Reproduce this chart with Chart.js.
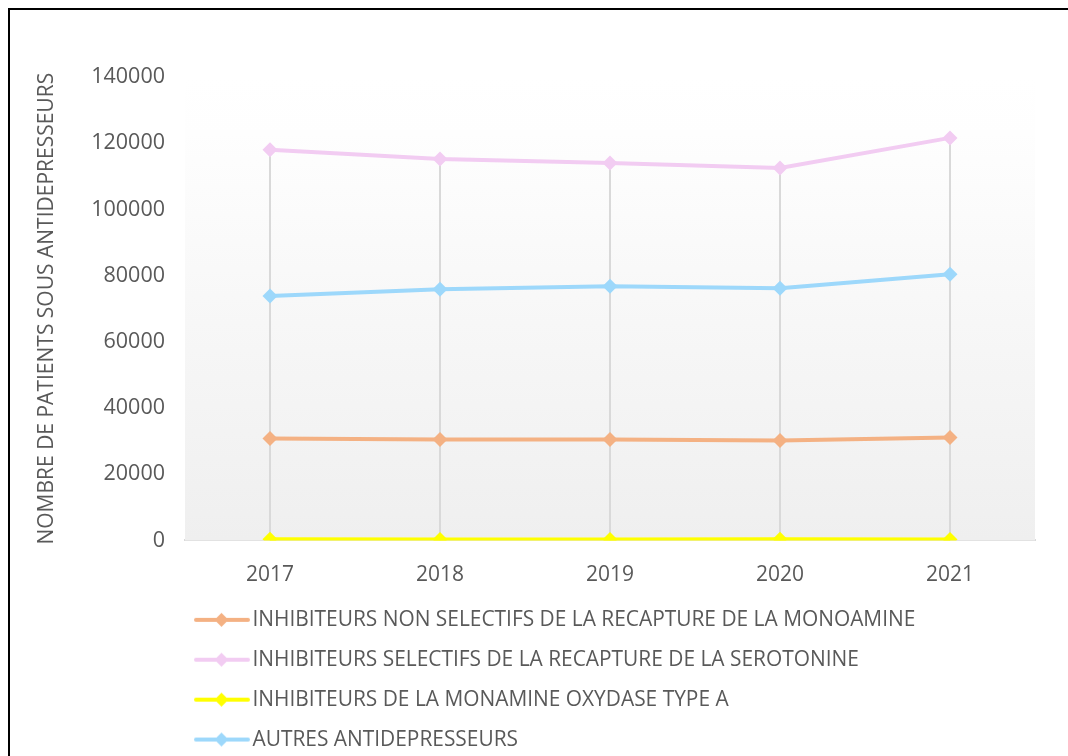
<!DOCTYPE html>
<html>
<head>
<meta charset="utf-8">
<script src="https://cdn.jsdelivr.net/npm/chart.js@4.4.0/dist/chart.umd.min.js"></script>
<style>
  html, body { margin: 0; padding: 0; background: #fff; overflow: hidden; }
  #frame { position: absolute; left: 8px; top: 8px; width: 1200px; height: 900px; border-left: 2px solid #000; border-top: 2px solid #000; }
  #chart { position: absolute; left: 0; top: 0; display: block; }
</style>
</head>
<body>
<div id="frame"></div>
<canvas id="chart" width="1068" height="760"></canvas>
<script>
const years = ["2017", "2018", "2019", "2020", "2021"];

const nonSelectifs = [30800, 30500, 30500, 30200, 31100];
const selectifs = [118000, 115200, 114000, 112500, 121600];
const imaoTypeA = [350, 300, 300, 350, 280];
const autres = [73800, 75900, 76800, 76200, 80400];

const seriesNames = [
  "INHIBITEURS NON SELECTIFS DE LA RECAPTURE DE LA MONOAMINE",
  "INHIBITEURS SELECTIFS DE LA RECAPTURE DE LA SEROTONINE",
  "INHIBITEURS DE LA MONAMINE OXYDASE TYPE A",
  "AUTRES ANTIDEPRESSEURS",
];
const seriesColors = ["#f4b183", "#f2ccf2", "#ffff00", "#9dd8fb"];

const yMax = 140000;
const yStep = 20000;

const textColor = "#595959";
const fontFamily = "'Open Sans', sans-serif";

// legend symbol: short line with a diamond in the middle
function legendSymbol(color) {
  const c = document.createElement("canvas");
  c.width = 60;
  c.height = 20;
  const ctx = c.getContext("2d");
  ctx.strokeStyle = color;
  ctx.lineWidth = 4;
  ctx.lineCap = "round";
  ctx.beginPath();
  ctx.moveTo(3, 10);
  ctx.lineTo(55, 10);
  ctx.stroke();
  ctx.fillStyle = color;
  ctx.beginPath();
  ctx.moveTo(28.5, 3);
  ctx.lineTo(35.5, 10);
  ctx.lineTo(28.5, 17);
  ctx.lineTo(21.5, 10);
  ctx.closePath();
  ctx.fill();
  return c;
}

// plot area fill + drop lines from the highest point of each year
const plotBackground = {
  id: "plotBackground",
  beforeDatasetsDraw(chart) {
    const { ctx, chartArea, scales } = chart;
    const g = ctx.createLinearGradient(0, chartArea.top, 0, chartArea.bottom);
    g.addColorStop(0, "#ffffff");
    g.addColorStop(0.12, "#fefefe");
    g.addColorStop(1, "#efefef");
    ctx.save();
    ctx.fillStyle = g;
    ctx.fillRect(chartArea.left, chartArea.top, chartArea.right - chartArea.left, chartArea.bottom - chartArea.top);

    ctx.strokeStyle = "#d9d9d9";
    ctx.lineWidth = 2;
    years.forEach((y, i) => {
      const top = Math.max(...chart.data.datasets.map(d => d.data[i]));
      const x = scales.x.getPixelForValue(i);
      ctx.beginPath();
      ctx.moveTo(x, scales.y.getPixelForValue(top));
      ctx.lineTo(x, scales.y.getPixelForValue(0));
      ctx.stroke();
    });
    ctx.restore();
  },
};

const seriesData = [nonSelectifs, selectifs, imaoTypeA, autres];

new Chart(document.getElementById("chart"), {
  type: "line",
  data: {
    labels: years,
    datasets: seriesData.map((values, i) => ({
      label: seriesNames[i],
      data: values,
      borderColor: seriesColors[i],
      backgroundColor: seriesColors[i],
      borderWidth: 4,
      pointStyle: "rectRot",
      pointRadius: 7.5,
      pointBorderWidth: 0,
      pointBackgroundColor: seriesColors[i],
      tension: 0,
    })),
  },
  options: {
    responsive: false,
    animation: false,
    layout: {
      padding: { left: 20, top: 77, right: 33, bottom: 0 },
    },
    plugins: {
      legend: {
        display: true,
        position: "bottom",
        align: "start",
        fullSize: false,
        labels: {
          usePointStyle: true,
          pointStyleWidth: 38,
          padding: 19,
          color: textColor,
          font: { family: fontFamily, size: 20.9 },
          generateLabels(chart) {
            const items = Chart.defaults.plugins.legend.labels.generateLabels(chart);
            items.forEach(item => { item.pointStyle = legendSymbol(seriesColors[item.datasetIndex]); });
            return items;
          },
        },
      },
      tooltip: { enabled: false },
    },
    scales: {
      x: {
        offset: true,
        grid: { display: false, drawTicks: false },
        border: { display: true, color: "#d9d9d9", width: 2 },
        ticks: {
          color: textColor,
          padding: 22,
          font: { family: fontFamily, size: 21 },
        },
        afterFit(scale) { scale.height = 50; },
      },
      y: {
        min: 0,
        max: yMax,
        grid: { display: false, drawTicks: false },
        border: { display: false },
        ticks: {
          stepSize: yStep,
          color: textColor,
          padding: 20,
          font: { family: fontFamily, size: 21.5 },
          callback: v => String(v),
        },
        title: {
          display: true,
          text: "NOMBRE DE PATIENTS SOUS ANTIDEPRESSEURS",
          color: textColor,
          padding: { top: 14, bottom: 0 },
          font: { family: fontFamily, size: 21 },
        },
        afterFit(scale) { scale.width = 165; },
      },
    },
  },
  plugins: [plotBackground],
});
</script>
</body>
</html>
